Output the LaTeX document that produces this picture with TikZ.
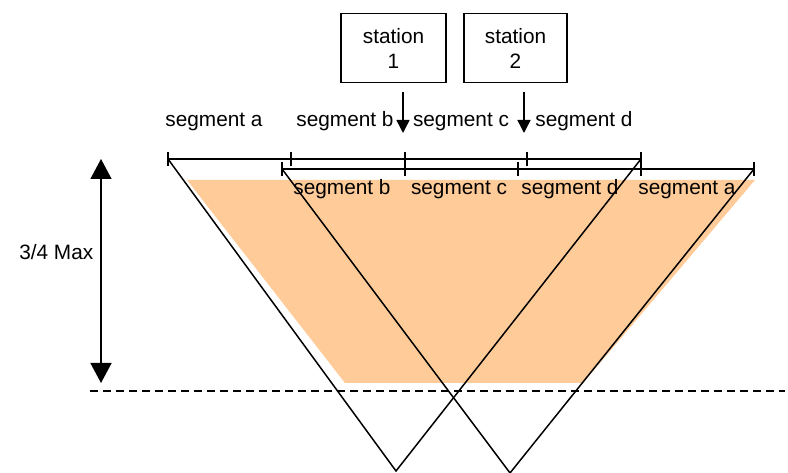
\documentclass[tikz,border=0pt]{standalone}
\usepackage{fontspec}
\setmainfont{Liberation Sans}
\usetikzlibrary{arrows.meta}
\definecolor{peach}{HTML}{FFCC99}
\begin{document}
\begin{tikzpicture}[x=1pt,y=-1pt,line width=1.5pt,
  lbl/.style={font=\fontsize{20.8}{25}\selectfont, inner sep=0pt, anchor=base},
  stationbox/.style={draw, line width=1.5pt, minimum height=69pt, align=center,
    font=\fontsize{20.8}{25}\selectfont, inner sep=0pt},
  stnarrow/.style={-{Triangle[length=13pt,width=13pt]}},
  bigarrow/.style={{Triangle[length=20pt,width=21pt]}-{Triangle[length=20pt,width=21pt]}},
  tickline/.style={line width=1.5pt},
  limit/.style={dashed, dash pattern=on 8pt off 5pt, line width=1.5pt}]
\useasboundingbox (0,0) rectangle (788,473);
% fill
\fill[peach] (187,180) -- (755,180) -- (583,383) -- (345,383) -- cycle;
% segment lines
\coordinate (u0) at (168,159); \coordinate (u1) at (291,159); \coordinate (u2) at (405,159);
\coordinate (u3) at (527,159); \coordinate (u4) at (641,159);
\coordinate (l0) at (282,169); \coordinate (l1) at (405,169); \coordinate (l2) at (518,169);
\coordinate (l3) at (641,169); \coordinate (l4) at (754,169);
\coordinate (v1) at (396,471); \coordinate (v2) at (510,473);
\draw (u0) -- (u4);
\draw (l0) -- (l4);
\foreach \c in {u0,u1,u3} \draw[tickline] ([yshift=7pt]\c) -- ([yshift=-7pt]\c);
\foreach \c in {u2,u4} \draw[tickline] ([yshift=7pt]\c) -- ([yshift=-17pt]\c);
\foreach \c in {l0,l2,l4} \draw[tickline] ([yshift=7pt]\c) -- ([yshift=-7pt]\c);
% V shapes
\draw (u0) -- (v1) -- (u4);
\draw (l0) -- (v2) -- (l4);
% dashed limit
\coordinate (d0) at (90,391); \coordinate (d1) at (785,391);
\draw[limit] (d0) -- (d1);
% big arrow
\coordinate (b0) at (101,159); \coordinate (b1) at (101,383);
\draw[bigarrow] (b0) -- (b1);
\node[lbl, anchor=base east] (max) at (94,260) {3/4 Max};
% stations
\node[stationbox, minimum width=105pt] (s1) at (393.5,48) {station\\1};
\node[stationbox, minimum width=103pt] (s2) at (515.5,48) {station\\2};
\coordinate (a1) at (403,133); \coordinate (a2) at (524,133);
\draw[stnarrow] ([yshift=-9pt]s1.south -| a1) -- (a1);
\draw[stnarrow] ([yshift=-9pt]s2.south -| a2) -- (a2);
% labels top
\node[lbl] (ta) at (214,127) {segment a};
\node[lbl] (tb) at (345,127) {segment b};
\node[lbl] (tc) at (461,127) {segment c};
\node[lbl] (td) at (584,127) {segment d};
% labels lower
\node[lbl] (lb) at (342,195) {segment b};
\node[lbl] (lc) at (459,195) {segment c};
\node[lbl] (ld) at (570,195) {segment d};
\node[lbl] (la) at (687,195) {segment a};
\end{tikzpicture}
\end{document}
